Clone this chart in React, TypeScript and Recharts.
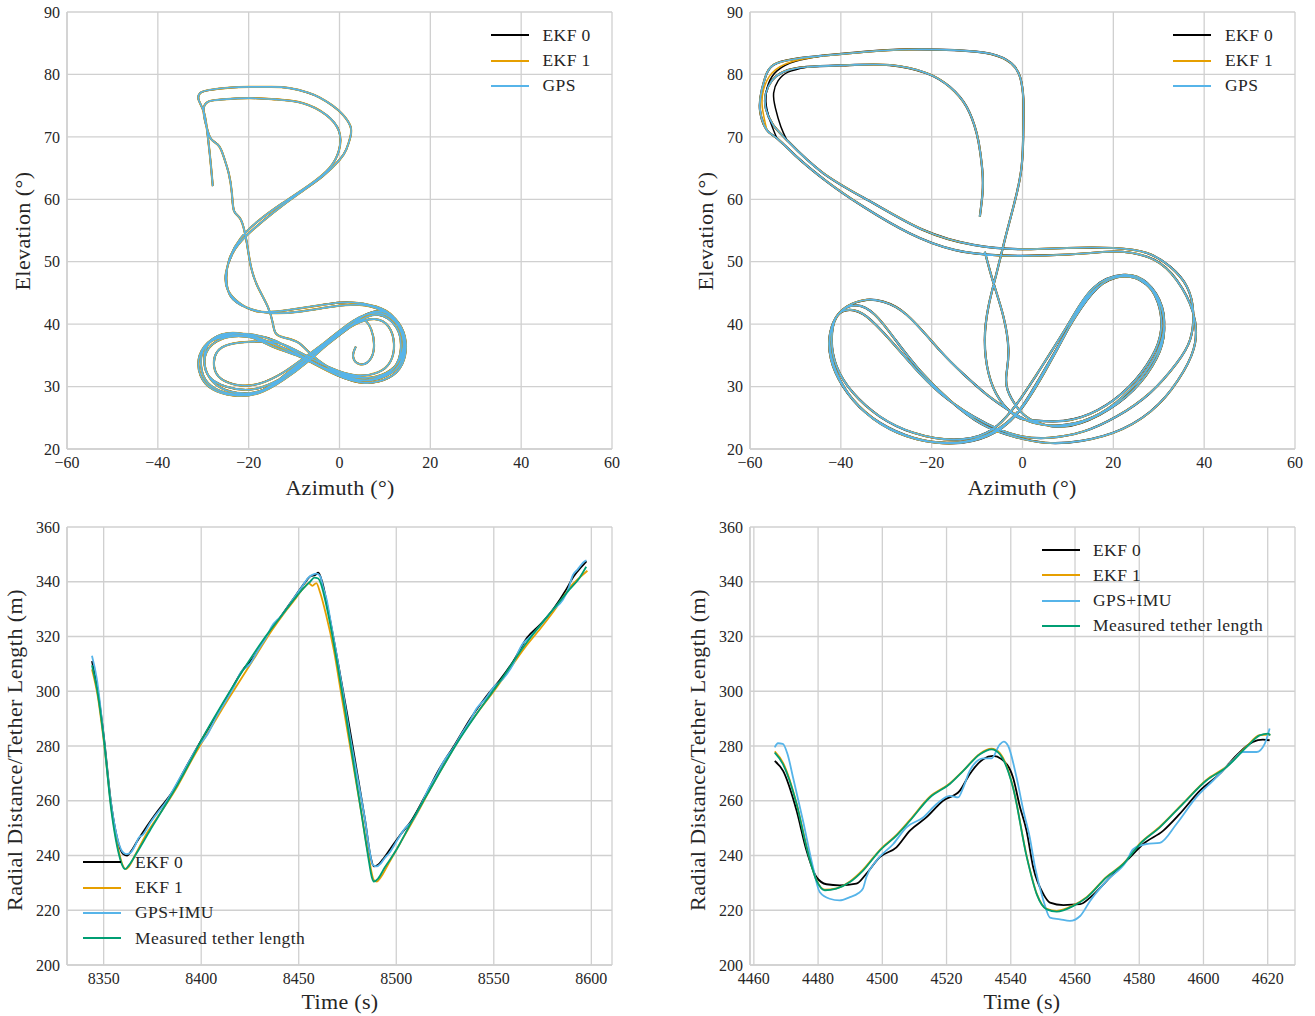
import React from "react";
import { LineChart, Line, XAxis, YAxis, CartesianGrid } from "recharts";

type Pt = [number, number];

const FONT = '"Liberation Serif", "DejaVu Serif", serif';
const INK = "#262626";
const GRID = "#d0d0d0";

const C_EKF0 = "#000000";
const C_EKF1 = "#E69F00";
const C_GPS = "#56B4E9";
const C_TETHER = "#009E73";

// tick values
const azimuthTicks = [-60, -40, -20, 0, 20, 40, 60];
const elevationTicks = [20, 30, 40, 50, 60, 70, 80, 90];
const radialTicks = [200, 220, 240, 260, 280, 300, 320, 340, 360];
const timeTicksLeft = [8350, 8400, 8450, 8500, 8550, 8600];
const timeTicksRight = [4460, 4480, 4500, 4520, 4540, 4560, 4580, 4600, 4620];

// top-left: azimuth/elevation track (deg).
// EKF 0 / EKF 1 sit under the GPS trace at this scale.
const tlGps: Pt[] = [
  [-27.9, 62.1], [-28.3, 65.3], [-28.6, 67.5], [-29.0, 70.1], [-29.8, 73.8], [-31.0, 75.9], [-30.7, 77.0],
  [-28.7, 77.5], [-24.0, 77.9], [-19.9, 78.0], [-15.0, 78.0], [-11.0, 77.8], [-7.0, 77.1], [-4.4, 76.3],
  [-1.5, 75.0], [0.8, 73.5], [2.4, 71.7], [2.4, 70.0], [1.5, 68.0], [0.0, 66.3], [-3.7, 63.7], [-8.8, 61.0],
  [-14.7, 57.8], [-20.6, 54.1], [-23.5, 51.4], [-25.0, 48.2], [-24.6, 45.5], [-22.1, 43.4], [-17.6, 42.0],
  [-11.0, 42.3], [-3.7, 43.1], [2.2, 43.5], [8.1, 42.8], [11.8, 41.2], [14.0, 38.0], [13.2, 34.3],
  [10.3, 32.2], [5.1, 31.4], [-2.2, 32.7], [-8.8, 34.8], [-14.7, 36.4], [-19.9, 38.0], [-25.0, 38.0],
  [-28.7, 37.0], [-29.8, 34.3], [-28.7, 31.6], [-25.0, 30.0], [-19.9, 29.5], [-14.7, 30.6], [-8.8, 33.2],
  [-2.2, 37.0], [3.7, 40.2], [8.5, 41.5], [12.5, 39.5], [13.5, 36.0], [12.0, 33.0], [8.0, 31.3], [2.0, 31.2],
  [-4.0, 33.2], [-9.0, 35.2], [-14.0, 37.3], [-20.0, 38.4], [-25.5, 38.2], [-29.5, 36.5], [-30.5, 33.5],
  [-29.0, 30.6], [-25.0, 29.0], [-20.0, 28.8], [-15.0, 30.2], [-9.0, 33.6],
  [-0.5, 38.0], [5.0, 41.2], [9.5, 42.0], [13.0, 40.2], [14.6, 37.0], [13.8, 33.6], [10.8, 31.4], [5.5, 30.6],
  [-0.5, 31.8], [-6.5, 34.0], [-12.5, 36.2], [-18.0, 37.8], [-23.5, 38.6], [-28.0, 37.6], [-30.8, 35.0],
  [-30.6, 31.8], [-28.0, 29.6], [-23.5, 28.6], [-18.0, 28.9], [-12.5, 31.0], [-7.0, 34.0],
  [-1.5, 37.5], [3.5, 40.0], [7.8, 40.8], [10.8, 39.6], [12.0, 36.8], [11.2, 34.0], [8.5, 32.3], [3.5, 31.8],
  [-2.0, 33.0], [-7.5, 35.0], [-13.5, 37.0], [-19.0, 37.2], [-24.0, 36.8], [-27.0, 35.5], [-27.6, 33.2],
  [-26.0, 31.2], [-22.0, 30.2], [-17.5, 30.5], [-12.5, 32.2], [-7.8, 34.6],
  [-3.0, 37.2], [3.0, 40.5], [8.0, 41.8], [12.0, 40.6], [14.0, 37.5], [13.5, 34.0], [10.5, 31.8], [5.0, 31.0],
  [-1.0, 32.5], [-6.0, 35.0], [-9.0, 37.0], [-12.0, 37.8], [-14.0, 38.5], [-14.7, 40.2], [-15.8, 42.8],
  [-18.0, 46.0], [-19.5, 49.2], [-20.4, 53.0], [-21.7, 56.7], [-23.2, 58.1], [-23.7, 61.0], [-24.4, 64.2],
  [-25.4, 66.6], [-26.5, 68.5], [-28.1, 69.5], [-29.0, 70.9], [-29.8, 73.3], [-29.8, 74.9], [-28.7, 75.7],
  [-25.7, 76.0], [-19.9, 76.2], [-14.0, 76.0], [-8.1, 75.4], [-2.9, 73.5], [-0.1, 70.9], [-0.1, 67.9],
  [-2.2, 65.0], [-6.6, 62.3], [-12.5, 59.4], [-17.6, 56.7], [-21.7, 53.8], [-24.3, 50.3], [-24.9, 47.1],
  [-23.9, 44.4], [-20.6, 42.7], [-15.4, 41.8], [-8.8, 42.0], [-1.5, 42.8], [4.4, 43.1], [9.0, 42.3],
  [12.8, 40.3], [14.3, 37.0], [13.2, 33.4], [9.5, 31.6], [4.0, 31.0], [-2.0, 32.4], [-8.0, 34.6],
  [-14.5, 36.8], [-20.5, 38.0], [-26.0, 37.6], [-29.3, 35.5], [-29.4, 32.6], [-27.0, 30.2], [-22.5, 29.0],
  [-17.0, 29.4], [-12.0, 31.6], [-6.0, 35.2], [0.0, 38.6], [4.0, 40.5], [5.6, 40.6], [7.0, 39.1],
  [7.6, 36.4], [6.6, 34.2], [4.4, 33.6], [3.0, 34.8], [3.6, 36.4],
];
const tlEkf0 = tlGps;
const tlEkf1 = tlGps;

// top-right: second flight, larger loops
const trGps: Pt[] = [
  [-9.4, 57.2], [-8.8, 61.0], [-8.8, 64.2], [-9.3, 67.5], [-10.1, 70.6], [-12.3, 74.8], [-16.0, 78.0],
  [-21.1, 80.2], [-29.2, 81.5], [-38.0, 81.5], [-47.5, 81.2], [-52.7, 80.4], [-55.2, 79.0], [-56.5, 77.0],
  [-56.5, 74.5], [-55.0, 72.0], [-51.9, 69.5], [-43.9, 64.2], [-32.9, 59.4], [-21.9, 55.1], [-10.8, 52.7],
  [0.0, 52.0], [9.7, 52.2], [20.0, 52.2], [27.4, 51.4], [32.5, 49.2], [36.2, 46.0], [37.6, 41.8],
  [36.9, 37.5], [34.0, 33.8], [28.1, 29.0], [20.7, 25.2], [13.4, 22.8], [6.0, 21.8], [0.0, 22.0],
  [-5.0, 23.1], [-10.8, 25.2], [-18.2, 29.0], [-24.0, 33.2], [-29.2, 37.5], [-34.3, 41.2], [-38.0, 42.3],
  [-40.9, 41.2], [-42.0, 37.5], [-40.9, 33.2], [-37.3, 29.0], [-31.4, 25.2], [-24.0, 22.6], [-15.2, 21.5],
  [-7.9, 22.6], [-3.5, 25.2], [-0.5, 28.0], [3.0, 31.8], [6.5, 35.8], [10.5, 40.5], [15.6, 45.8],
  [22.2, 47.9], [27.4, 46.6], [30.7, 42.8], [31.0, 38.6], [28.8, 34.3], [23.7, 29.5], [17.1, 25.7],
  [9.7, 23.9], [2.4, 24.2], [-3.0, 26.2], [-8.0, 28.8], [-13.0, 32.0], [-18.2, 35.8], [-25.5, 41.5],
  [-30.7, 43.6], [-34.3, 43.9], [-38.7, 42.8], [-41.7, 40.2], [-42.4, 36.4], [-40.9, 32.2], [-37.3, 27.9],
  [-31.4, 24.2], [-24.0, 21.8], [-16.7, 21.0], [-9.4, 21.8], [-3.5, 24.2], [0.1, 27.0], [3.5, 31.0],
  [7.5, 36.0], [11.5, 41.0], [16.5, 45.8], [21.5, 47.6], [26.5, 46.8], [29.8, 43.5], [30.5, 39.0],
  [28.5, 34.8], [23.5, 30.0], [16.5, 26.2], [9.0, 24.5], [2.0, 24.6], [-1.3, 25.2], [-5.0, 27.9],
  [-7.5, 32.2], [-8.3, 37.5], [-7.5, 42.8], [-5.7, 48.2], [-3.9, 53.5], [-2.0, 58.8], [-0.2, 65.2],
  [0.2, 72.2], [0.2, 76.0], [-0.5, 79.5], [-2.5, 81.8], [-7.0, 83.3], [-15.0, 83.9], [-25.0, 84.0],
  [-35.0, 83.6], [-44.0, 83.0], [-49.0, 82.6], [-54.1, 81.8], [-56.3, 80.2], [-57.4, 77.5], [-57.8, 74.3],
  [-56.3, 71.1], [-54.1, 69.8], [-50.0, 67.0], [-43.0, 62.8], [-35.0, 58.8], [-25.0, 54.6], [-15.0, 51.9],
  [-5.0, 51.0], [5.0, 51.0], [15.0, 51.4], [22.0, 51.6], [29.0, 50.3], [34.0, 47.0], [37.5, 42.0],
  [38.0, 37.0], [35.5, 32.5], [30.0, 27.2], [22.0, 23.2], [13.0, 21.3], [5.0, 21.0], [-2.0, 22.0],
  [-9.0, 24.0], [-16.0, 27.8], [-22.5, 32.5], [-28.0, 37.5], [-32.5, 41.5], [-36.5, 43.0], [-40.0, 42.0],
  [-42.3, 38.8], [-42.2, 34.5], [-39.5, 30.0], [-34.5, 25.8], [-27.5, 22.6], [-19.0, 21.0], [-11.0, 21.3],
  [-4.5, 23.4], [0.5, 27.2], [5.0, 32.5], [9.5, 38.5], [14.5, 44.5], [20.7, 47.5], [26.0, 47.0],
  [30.0, 43.8], [31.2, 39.0], [29.5, 34.5], [24.5, 29.5], [17.0, 25.5], [9.0, 23.6], [2.4, 24.5],
  [-1.0, 26.5], [-3.3, 29.5], [-3.5, 32.2], [-3.1, 35.9], [-4.2, 41.2], [-6.4, 46.6], [-8.3, 51.6],
];
const trEkf0 = trGps;
const trEkf1 = trGps;
// where the estimators split from GPS in the upper-left turn
const trEkf0Turn: Pt[] = [
  [-44.0, 83.0], [-50.0, 82.1], [-54.0, 80.6], [-56.0, 78.4], [-56.5, 75.6], [-55.6, 72.6], [-54.1, 69.8],
];
const trEkf0TurnInner: Pt[] = [
  [-47.5, 81.2], [-51.5, 80.4], [-53.8, 79.0], [-54.8, 77.0], [-54.4, 74.6], [-53.2, 71.6], [-51.9, 69.5],
];
const trEkf1Turn: Pt[] = [
  [-44.0, 83.0], [-51.0, 82.0], [-55.2, 80.2], [-57.0, 77.6], [-57.3, 74.8], [-56.3, 71.1],
];

// bottom-left: radial distance / tether length (m) vs time (s)
const blEkf0: Pt[] = [
  [8344, 311], [8347, 300], [8350, 284], [8354, 258], [8357, 246], [8360, 240.5], [8362, 240], [8364, 241.5],
  [8367, 245], [8372, 250.5], [8378, 256.5], [8385, 263], [8392, 272], [8400, 282], [8408, 291.5],
  [8415, 300], [8421, 307.5], [8427, 312.5], [8434, 320.5], [8441, 327.5], [8448, 334.5], [8453, 339.5],
  [8456, 342], [8458.5, 342.5], [8460, 343.3], [8462, 340], [8465, 330], [8470, 311], [8475, 291],
  [8480, 270], [8484, 253], [8487, 239], [8488.5, 236], [8490.5, 236.5], [8493, 238.5], [8497, 242.5],
  [8502, 247.5], [8508, 253], [8515, 262], [8522, 271.5], [8530, 280.5], [8538, 290], [8546, 298],
  [8553, 304], [8560, 311], [8567, 319.5], [8574, 324.5], [8581, 330.5], [8587, 337], [8591, 342],
  [8595, 345.5], [8597.5, 347.5],
];
const blEkf1: Pt[] = [
  [8344, 308], [8347, 298], [8350, 282], [8354, 257], [8357, 244], [8360, 236], [8361.5, 235], [8363, 236],
  [8366, 240], [8372, 248], [8380, 256.5], [8388, 265.5], [8396, 276], [8404, 285.5], [8412, 295],
  [8420, 304], [8428, 313], [8436, 322], [8443, 329], [8448, 333.5], [8451, 336.5], [8453, 338],
  [8455, 339.5], [8457, 338.5], [8459, 339.5], [8461, 336], [8464, 328], [8468, 315], [8472, 298],
  [8477, 277], [8482, 256], [8486, 239], [8488.5, 231], [8490, 230.5], [8492, 232], [8496, 237],
  [8502, 244.5], [8510, 254.5], [8518, 265], [8526, 275], [8534, 284.5], [8542, 292.5], [8550, 300],
  [8558, 308], [8566, 316], [8574, 323], [8582, 330.5], [8589, 338], [8594, 341.5], [8598, 344],
];
const blGps: Pt[] = [
  [8344, 313], [8346.5, 304.5], [8350, 283.5], [8353.5, 260.5], [8356.8, 247], [8359.5, 241.5],
  [8361.5, 240.5], [8363.7, 241], [8366, 243.5], [8368, 246.5], [8370, 247.5], [8373.9, 252], [8378, 256],
  [8382.4, 260], [8388, 267], [8394, 274.5], [8398, 279.5], [8403, 284], [8408, 291], [8413, 297],
  [8417, 302], [8420, 306.5], [8425, 310], [8430, 316], [8434, 320.5], [8436, 323.5], [8441, 327.5],
  [8447, 333.5], [8451, 337.5], [8455, 341.5], [8457, 342.5], [8459.2, 343], [8461, 342], [8462.5, 338],
  [8464.3, 333.5], [8466.5, 325], [8469.5, 313], [8472.5, 300.5], [8476, 285], [8480, 269], [8484, 253],
  [8486.5, 241], [8488, 236.5], [8490, 236], [8492, 237], [8494, 239], [8496.5, 241], [8500, 245],
  [8504, 249.5], [8508.5, 253], [8513, 259], [8517, 265], [8520, 268.5], [8524, 274], [8529, 279],
  [8534, 285], [8538, 289.5], [8541, 293.5], [8546, 297.5], [8550, 301.5], [8554.7, 304.5], [8560, 310],
  [8563, 315], [8565, 317.5], [8568, 319.5], [8572, 322.5], [8575, 325], [8580, 329.5], [8585.5, 333.5],
  [8588, 337], [8590.6, 342.5], [8593, 344.5], [8596.6, 347.5], [8597.5, 347.8],
];
const blTether: Pt[] = [
  [8344, 309.5], [8347, 299], [8350, 283], [8354, 256], [8357, 243], [8359.5, 236.5], [8361, 235],
  [8363, 236.5], [8367, 241], [8374, 249.5], [8380, 256.5], [8388, 266], [8396, 276.5], [8400, 282],
  [8408, 292], [8416, 301.5], [8424, 310.5], [8432, 319], [8440, 326.5], [8447, 333], [8451, 336.5],
  [8455.8, 340], [8458, 341.5], [8460, 341.2], [8461.5, 339], [8463, 335], [8466, 325], [8470, 309],
  [8474, 292], [8478, 274], [8482, 256], [8485.5, 240], [8487.5, 232], [8488.5, 230.5], [8490.6, 231.5],
  [8494, 235.5], [8500, 242], [8508, 252.5], [8516, 262.5], [8524, 272.5], [8532, 282], [8540, 290.5],
  [8548, 298.5], [8556, 306.5], [8564, 315], [8572, 322.5], [8580, 329.5], [8588, 336.5], [8594, 341.5],
  [8597.4, 345.5],
];

// bottom-right: second flight
const brEkf0: Pt[] = [
  [4466.5, 274.5], [4469.1, 270.9], [4473.3, 256.4], [4476.4, 241.8], [4479.5, 232.1], [4482.6, 229.5],
  [4486.7, 229.1], [4491.9, 229.7], [4495, 233.3], [4499.2, 239.4], [4504.4, 243], [4508.6, 249.1],
  [4513.7, 253.9], [4518.9, 260], [4524.1, 263.6], [4527.2, 269.7], [4531.4, 275.2], [4534.5, 276.4],
  [4537.1, 275.2], [4540.7, 268.5], [4542.8, 258], [4544.9, 249.1], [4547, 235.6], [4550.2, 225.8],
  [4552.2, 222.8], [4556.4, 221.9], [4561.6, 222.2], [4564.7, 224.6], [4570.9, 232], [4577.1, 239.3],
  [4581.2, 244.2], [4587.5, 249.1], [4592.6, 255.2], [4598.9, 263.7], [4605.1, 269.9], [4610.3, 276.6],
  [4615.4, 281.5], [4618.5, 282.3], [4620.6, 282.1],
];
const brEkf1: Pt[] = [
  [4466.5, 278], [4469.1, 273.8], [4473.3, 259], [4476.4, 243.5], [4479.5, 231], [4482.1, 227.5],
  [4485.7, 228], [4489.9, 230.5], [4494, 234.8], [4499.2, 242], [4504.4, 247.5], [4508.6, 253],
  [4514.8, 261.5], [4521, 266.3], [4525.2, 271], [4530.4, 277.2], [4534, 279], [4536.6, 277.4],
  [4540.7, 265], [4545, 239.5], [4548.1, 226], [4551.2, 220.5], [4554.3, 219.8], [4559.5, 221.8],
  [4563.6, 224.8], [4569.8, 232.2], [4575, 237], [4580.2, 244.4], [4586.4, 250.5], [4593.6, 259],
  [4600.9, 267.6], [4607.2, 272.5], [4613.4, 279.8], [4617.5, 284], [4620.8, 284.2],
];
const brGps: Pt[] = [
  [4466.5, 279.5], [4467.5, 281], [4469, 280.8], [4470.5, 277], [4472.2, 268.5], [4475.3, 252.7],
  [4478.4, 235.8], [4480.5, 226.7], [4483.6, 224.2], [4486.7, 223.6], [4489.9, 224.8], [4492.5, 226.2],
  [4494, 228], [4495, 232], [4498.2, 238.2], [4503.4, 244.2], [4507.5, 250.3], [4512.7, 253.9],
  [4516.9, 258.8], [4521, 261.8], [4523.6, 261.2], [4525.2, 264.8], [4527.2, 270.9], [4531.4, 275.5],
  [4534, 275.5], [4536.6, 280.6], [4537.8, 281.6], [4539.2, 280], [4541.8, 268.5], [4544, 256],
  [4545.9, 246.7], [4547.5, 236], [4550.2, 223.4], [4552.2, 217.3], [4555.3, 216.7], [4558.4, 216.1],
  [4561.6, 217.9], [4564.7, 223.4], [4569.8, 230.7], [4576.1, 238.1], [4578.1, 242.3], [4582.3, 244.2],
  [4586.4, 244.6], [4591.6, 251.5], [4597.8, 261.3], [4603, 267.4], [4609.2, 274.7], [4612.3, 277.8],
  [4616.5, 277.8], [4619.1, 280.9], [4620.6, 286.4],
];
const brTether: Pt[] = [
  [4466.5, 277.6], [4469.1, 273.3], [4473.3, 258.8], [4476.4, 243], [4479.5, 230.9], [4482.1, 227.3],
  [4485.7, 227.9], [4489.9, 230.3], [4494, 234.5], [4499.2, 241.8], [4504.4, 247.3], [4508.6, 252.7],
  [4514.8, 261.2], [4521, 266.1], [4525.2, 270.9], [4530.4, 277], [4534, 278.8], [4536.6, 277],
  [4540.7, 264.8], [4545, 239.3], [4548.1, 225.8], [4551.2, 220.3], [4554.3, 219.5], [4559.5, 221.6],
  [4563.6, 224.6], [4569.8, 232], [4575, 236.8], [4580.2, 244.2], [4586.4, 250.3], [4593.6, 258.9],
  [4600.9, 267.4], [4607.2, 272.3], [4613.4, 279.6], [4617.5, 283.9], [4620.1, 284.5], [4620.8, 283.9],
];

type Series = { id: string; data: Pt[]; color: string; width: number };
type Curve = "natural" | "monotone";

const toRows = (pts: Pt[]) => pts.map(([x, y]) => ({ x, y }));
const fmtTick = (v: number) => String(v).replace("-", "\u2212");

// tick text drawn by hand so the serif face is guaranteed
const XTick = (p: any) => (
  <text x={p.x} y={p.y} dy="0.71em" textAnchor="middle" fill={INK} fontSize={16} fontFamily={FONT}>
    {fmtTick(p.payload.value)}
  </text>
);
const YTick = (p: any) => (
  <text x={p.x} y={p.y} dy="0.355em" textAnchor="end" fill={INK} fontSize={16} fontFamily={FONT}>
    {fmtTick(p.payload.value)}
  </text>
);

function Panel(props: {
  left: number;
  top: number;
  height: number;
  plotH: number;
  xDomain: [number, number];
  xTicks: number[];
  yDomain: [number, number];
  yTicks: number[];
  curve: Curve;
  series: Series[];
}) {
  const { left, top, height, plotH, xDomain, xTicks, yDomain, yTicks, curve, series } = props;
  return (
    <div style={{ position: "absolute", left, top, fontFamily: FONT }}>
      <LineChart
        width={625}
        height={height}
        margin={{ top: 12, right: 13, bottom: 0, left: 0 }}
        style={{ fontFamily: FONT }}
      >
        <CartesianGrid stroke={GRID} strokeWidth={1.3} />
        <XAxis
          type="number"
          dataKey="x"
          domain={xDomain}
          ticks={xTicks}
          allowDataOverflow
          height={height - 12 - plotH}
          tickSize={0}
          tickMargin={8}
          axisLine={{ stroke: GRID, strokeWidth: 1.5 }}
          tick={XTick}
        />
        <YAxis
          type="number"
          dataKey="y"
          domain={yDomain}
          ticks={yTicks}
          allowDataOverflow
          width={67}
          tickSize={0}
          tickMargin={7}
          axisLine={{ stroke: GRID, strokeWidth: 1.5 }}
          tick={YTick}
        />
        <YAxis yAxisId="frame" orientation="right" width={0} tick={false} axisLine={{ stroke: GRID, strokeWidth: 1.5 }} />
        {series.map((s) => (
          <Line
            key={s.id}
            data={toRows(s.data)}
            dataKey="y"
            type={curve}
            stroke={s.color}
            strokeWidth={s.width}
            strokeLinejoin="round"
            dot={false}
            isAnimationActive={false}
          />
        ))}
      </LineChart>
    </div>
  );
}

const textBase: React.CSSProperties = {
  position: "absolute",
  fontFamily: FONT,
  color: INK,
  whiteSpace: "nowrap",
  lineHeight: "24px",
};

function XTitle({ cx, baseline, text }: { cx: number; baseline: number; text: string }) {
  return (
    <div
      style={{
        ...textBase,
        fontSize: 22,
        letterSpacing: "0.3px",
        left: cx,
        top: baseline - 19,
        transform: "translateX(-50%)",
      }}
    >
      {text}
    </div>
  );
}

function YTitle({ cx, cy, text }: { cx: number; cy: number; text: string }) {
  return (
    <div
      style={{
        ...textBase,
        fontSize: 22,
        letterSpacing: "0.45px",
        left: cx,
        top: cy,
        transform: "translate(-50%, -50%) rotate(-90deg)",
      }}
    >
      {text}
    </div>
  );
}

function LegendBox({ lineX, textX, rows }: { lineX: number; textX: number; rows: { y: number; label: string; color: string }[] }) {
  return (
    <>
      {rows.map((r) => (
        <React.Fragment key={r.label}>
          <div style={{ position: "absolute", left: lineX, top: r.y - 1, width: 38, height: 2, background: r.color }} />
          <div
            style={{
              ...textBase,
              fontSize: 17.5,
              letterSpacing: "0.4px",
              lineHeight: "20px",
              left: textX,
              top: r.y - 10.5,
            }}
          >
            {r.label}
          </div>
        </React.Fragment>
      ))}
    </>
  );
}

export default function App() {
  const topSeries = (e0: Pt[], e1: Pt[], g: Pt[], w: [number, number], extra: Series[] = []): Series[] => [
    { id: "ekf0", data: e0, color: C_EKF0, width: w[0] },
    { id: "ekf1", data: e1, color: C_EKF1, width: w[1] },
    ...extra,
    { id: "gps", data: g, color: C_GPS, width: 1.6 },
  ];
  const bottomSeries = (e0: Pt[], e1: Pt[], g: Pt[], t: Pt[]): Series[] => [
    { id: "ekf0", data: e0, color: C_EKF0, width: 1.8 },
    { id: "ekf1", data: e1, color: C_EKF1, width: 1.8 },
    { id: "gps", data: g, color: C_GPS, width: 1.8 },
    { id: "tether", data: t, color: C_TETHER, width: 1.8 },
  ];
  const topLegend = [
    { label: "EKF 0", color: C_EKF0 },
    { label: "EKF 1", color: C_EKF1 },
    { label: "GPS", color: C_GPS },
  ];
  const bottomLegend = [
    { label: "EKF 0", color: C_EKF0 },
    { label: "EKF 1", color: C_EKF1 },
    { label: "GPS+IMU", color: C_GPS },
    { label: "Measured tether length", color: C_TETHER },
  ];
  const rowsAt = (items: { label: string; color: string }[], y0: number) =>
    items.map((it, i) => ({ ...it, y: y0 + i * 25.3 }));

  return (
    <div style={{ position: "absolute", left: 0, top: 0, width: 1315, height: 1016, background: "#fff" }}>
      <Panel left={0} top={0} height={509} plotH={437} xDomain={[-60, 60]} xTicks={azimuthTicks}
        yDomain={[20, 90]} yTicks={elevationTicks} curve="natural"
        series={topSeries(tlEkf0, tlEkf1, tlGps, [1.8, 2.2])} />
      <Panel left={683} top={0} height={509} plotH={437} xDomain={[-60, 60]} xTicks={azimuthTicks}
        yDomain={[20, 90]} yTicks={elevationTicks} curve="natural"
        series={topSeries(trEkf0, trEkf1, trGps, [2.2, 1.9], [
          { id: "e0a", data: trEkf0Turn, color: C_EKF0, width: 1.5 },
          { id: "e0b", data: trEkf0TurnInner, color: C_EKF0, width: 1.5 },
          { id: "e1a", data: trEkf1Turn, color: C_EKF1, width: 1.5 },
        ])} />
      <Panel left={0} top={515} height={500} plotH={438} xDomain={[8331.2, 8610.6]} xTicks={timeTicksLeft}
        yDomain={[200, 360]} yTicks={radialTicks} curve="monotone"
        series={bottomSeries(blEkf0, blEkf1, blGps, blTether)} />
      <Panel left={683} top={515} height={500} plotH={438} xDomain={[4458.8, 4628.5]} xTicks={timeTicksRight}
        yDomain={[200, 360]} yTicks={radialTicks} curve="monotone"
        series={bottomSeries(brEkf0, brEkf1, brGps, brTether)} />

      <XTitle cx={340} baseline={495} text="Azimuth (°)" />
      <XTitle cx={1022} baseline={495} text="Azimuth (°)" />
      <XTitle cx={340} baseline={1009} text="Time (s)" />
      <XTitle cx={1022} baseline={1009} text="Time (s)" />
      <YTitle cx={23} cy={231} text="Elevation (°)" />
      <YTitle cx={706} cy={231} text="Elevation (°)" />
      <YTitle cx={15} cy={750} text="Radial Distance/Tether Length (m)" />
      <YTitle cx={698} cy={750} text="Radial Distance/Tether Length (m)" />

      <LegendBox lineX={490.5} textX={542.5} rows={rowsAt(topLegend, 35.2)} />
      <LegendBox lineX={1173} textX={1225} rows={rowsAt(topLegend, 35.2)} />
      <LegendBox lineX={83} textX={135} rows={rowsAt(bottomLegend, 862.3)} />
      <LegendBox lineX={1041.5} textX={1093} rows={rowsAt(bottomLegend, 550)} />
    </div>
  );
}
